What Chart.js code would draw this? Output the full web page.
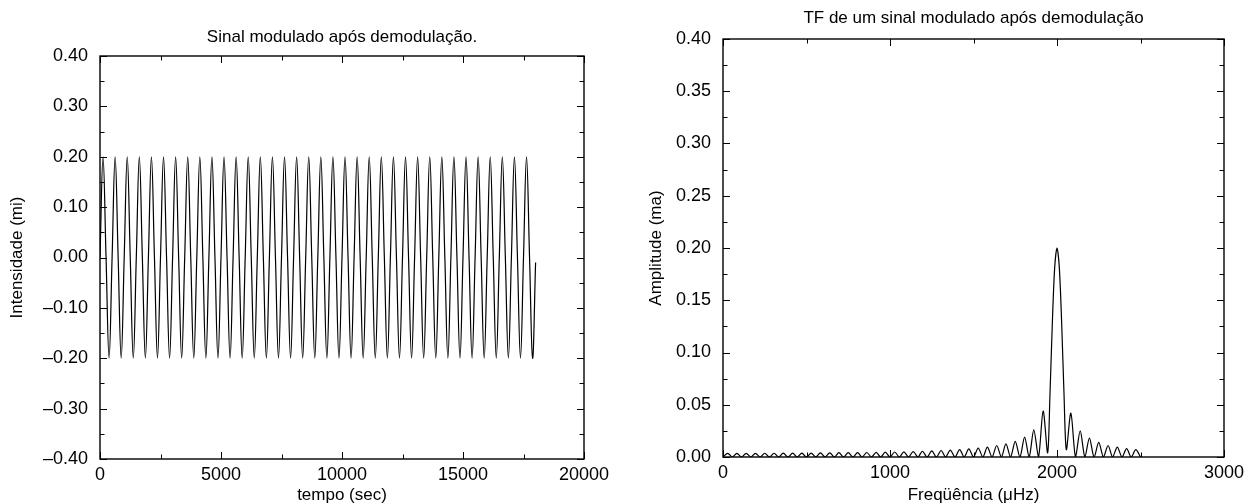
<!DOCTYPE html>
<html>
<head>
<meta charset="utf-8">
<script src="https://cdn.jsdelivr.net/npm/chart.js@4.4.0/dist/chart.umd.min.js"></script>
<style>
body { margin: 0; background: #fff; }
#wrap { position: relative; width: 1244px; height: 504px; }
canvas { position: absolute; top: 0; }
#chart-signal { left: 0; }
#chart-spectrum { left: 622px; }
</style>
</head>
<body>
<div id="wrap">
<canvas id="chart-signal" width="622" height="504"></canvas>
<canvas id="chart-spectrum" width="622" height="504"></canvas>
</div>
<script>
// left panel: demodulated signal, samples at every quarter period (500 s period)
const times = [
	0,125,250,375,500,625,750,875,1000,1125,1250,1375,1500,1625,1750,1875,
	2000,2125,2250,2375,2500,2625,2750,2875,3000,3125,3250,3375,3500,3625,3750,3875,
	4000,4125,4250,4375,4500,4625,4750,4875,5000,5125,5250,5375,5500,5625,5750,5875,
	6000,6125,6250,6375,6500,6625,6750,6875,7000,7125,7250,7375,7500,7625,7750,7875,
	8000,8125,8250,8375,8500,8625,8750,8875,9000,9125,9250,9375,9500,9625,9750,9875,
	10000,10125,10250,10375,10500,10625,10750,10875,11000,11125,11250,11375,11500,11625,11750,11875,
	12000,12125,12250,12375,12500,12625,12750,12875,13000,13125,13250,13375,13500,13625,13750,13875,
	14000,14125,14250,14375,14500,14625,14750,14875,15000,15125,15250,15375,15500,15625,15750,15875,
	16000,16125,16250,16375,16500,16625,16750,16875,17000,17125,17250,17375,17500,17625,17750,17875,
	18000
]
const signal = [
	0,0.2,0,-0.2, 0,0.2,0,-0.2, 0,0.2,0,-0.2, 0,0.2,0,-0.2,
	0,0.2,0,-0.2, 0,0.2,0,-0.2, 0,0.2,0,-0.2, 0,0.2,0,-0.2,
	0,0.2,0,-0.2, 0,0.2,0,-0.2, 0,0.2,0,-0.2, 0,0.2,0,-0.2,
	0,0.2,0,-0.2, 0,0.2,0,-0.2, 0,0.2,0,-0.2, 0,0.2,0,-0.2,
	0,0.2,0,-0.2, 0,0.2,0,-0.2, 0,0.2,0,-0.2, 0,0.2,0,-0.2,
	0,0.2,0,-0.2, 0,0.2,0,-0.2, 0,0.2,0,-0.2, 0,0.2,0,-0.2,
	0,0.2,0,-0.2, 0,0.2,0,-0.2, 0,0.2,0,-0.2, 0,0.2,0,-0.2,
	0,0.2,0,-0.2, 0,0.2,0,-0.2, 0,0.2,0,-0.2, 0,0.2,0,-0.2,
	0,0.2,0,-0.2, 0,0.2,0,-0.2, 0,0.2,0,-0.2, 0,0.2,0,-0.2,
	-0.01
]

// right panel: amplitude spectrum, lobe zeros and lobe tops
const freqs = [
	0,28,56,83,111,139,167,194,222,250,278,306,333,361,389,417,444,472,500,528,
	556,583,611,639,667,694,722,750,778,806,833,861,889,917,944,972,1000,1028,1056,1083,
	1111,1139,1167,1194,1222,1250,1278,1306,1333,1361,1389,1417,1444,1472,1500,1528,1556,1583,1611,1639,
	1667,1694,1722,1750,1778,1806,1833,1861,1889,1917,1944,
	1958,1972,1986,2000,2014,2028,2042,2056,
	2083,2111,2139,2167,2194,2222,2250,2278,2306,2333,2361,2389,2417,2444,2472,2500
]
const amplitude = [
	0,0.0035,0,0.0035,0,0.0035,0,0.0035,0,0.0036,0,0.0036,0,0.0037,0,0.0037,0,0.0038,0,0.0038,
	0,0.0039,0,0.004,0,0.0041,0,0.0041,0,0.0042,0,0.0043,0,0.0045,0,0.0046,0,0.0048,0,0.005,
	0,0.0052,0,0.0055,0,0.0058,0,0.0062,0,0.0066,0,0.0071,0,0.0077,0,0.0085,0,0.0095,0,0.011,
	0,0.0125,0,0.015,0,0.019,0,0.026,0,0.044,0.004,
	0.06,0.128,0.181,0.2,0.181,0.128,0.06,0.007,
	0.042,0,0.025,0,0.018,0,0.014,0,0.011,0,0.0095,0,0.008,0,0.007,0
]

const signalTicksY = [-0.4, 0.4, 0.1]
const signalTicksX = [0, 20000, 5000]
const spectrumTicksY = [0, 0.4, 0.05]
const spectrumTicksX = [0, 3000, 1000]

const fontFamily = "'Liberation Sans', Helvetica, Arial, sans-serif"
Chart.defaults.font.family = fontFamily
Chart.defaults.color = '#000'

const fmtY = v => (v < -1e-9 ? '\u2013' : '') + Math.abs(v).toFixed(2)
const fmtX = v => String(v)

// frame with inward ticks on all four sides, like the original plot
const frameTicks = {
	id: 'frameTicks',
	afterDraw(chart, args, opts) {
		const {ctx, chartArea: a, scales: {x, y}} = chart
		ctx.save()
		ctx.strokeStyle = '#000'
		ctx.lineWidth = 1.4
		ctx.strokeRect(a.left, a.top, a.right - a.left, a.bottom - a.top)
		ctx.lineWidth = 1
		ctx.beginPath()
		for (let i = 0; x.min + i * opts.xMinor <= x.max + 1e-9; i++) {
			const px = Math.round(x.getPixelForValue(x.min + i * opts.xMinor)) + 0.5
			const len = i % 2 === 0 ? 7 : 4.5
			ctx.moveTo(px, a.bottom); ctx.lineTo(px, a.bottom - len)
			ctx.moveTo(px, a.top); ctx.lineTo(px, a.top + len)
		}
		for (let i = 0; y.min + i * opts.yMinor <= y.max + 1e-9; i++) {
			const py = Math.round(y.getPixelForValue(y.min + i * opts.yMinor)) + 0.5
			const len = i % 2 === 0 ? 7 : 4.5
			ctx.moveTo(a.left, py); ctx.lineTo(a.left + len, py)
			ctx.moveTo(a.right, py); ctx.lineTo(a.right - len, py)
		}
		ctx.stroke()
		ctx.restore()
	}
}

function makeOptions(cfg) {
	return {
		responsive: false,
		animation: false,
		events: [],
		layout: { padding: { left: 0, right: cfg.padRight, top: 0, bottom: 0 } },
		plugins: {
			legend: { display: false },
			tooltip: { enabled: false },
			title: {
				display: true,
				text: cfg.title,
				fullSize: false,
				color: '#000',
				font: { size: 17, weight: 'normal', lineHeight: 1 },
				padding: { top: cfg.titleTop, bottom: cfg.titleBottom }
			},
			frameTicks: { xMinor: cfg.xTicks[2] / 2, yMinor: cfg.yTicks[2] / 2 }
		},
		scales: {
			x: {
				type: 'linear',
				min: cfg.xTicks[0],
				max: cfg.xTicks[1],
				grid: { display: false, drawTicks: false },
				border: { display: false },
				ticks: { stepSize: cfg.xTicks[2], padding: 5, font: { size: 18 }, maxRotation: 0, callback: fmtX },
				title: { display: true, text: cfg.xTitle, font: { size: 17, lineHeight: 1 }, padding: 0 },
				afterFit: s => {
					s.height = cfg.xHeight
					// keep the plot box fixed; the end labels may overhang into the margin
					s.paddingLeft = 0
					s.paddingRight = 0
				}
			},
			y: {
				min: cfg.yTicks[0],
				max: cfg.yTicks[1],
				grid: { display: false, drawTicks: false },
				border: { display: false },
				ticks: { stepSize: cfg.yTicks[2], padding: 12, font: { size: 18 }, callback: fmtY },
				title: { display: true, text: cfg.yTitle, font: { size: 17, lineHeight: 1 }, padding: { top: cfg.yTitlePad, bottom: 0 } },
				afterFit: s => {
					s.width = cfg.yWidth
					s.paddingTop = 0
					s.paddingBottom = 0
				}
			}
		}
	}
}

const chartSignal = new Chart(document.getElementById('chart-signal'), {
	type: 'line',
	data: {
		datasets: [{
			data: times.map((t, i) => ({ x: t, y: signal[i] })),
			borderColor: '#000',
			borderWidth: 1.2,
			pointRadius: 0,
			tension: 0.4
		}]
	},
	options: makeOptions({
		title: 'Sinal modulado após demodulação.',
		titleTop: 28.5, titleBottom: 10.5,
		padRight: 38, yWidth: 100, xHeight: 45,
		xTicks: signalTicksX, yTicks: signalTicksY,
		xTitle: 'tempo (sec)', yTitle: 'Intensidade (mi)', yTitlePad: 8.5
	}),
	plugins: [frameTicks]
})

const chartSpectrum = new Chart(document.getElementById('chart-spectrum'), {
	type: 'line',
	data: {
		datasets: [{
			data: freqs.map((f, i) => ({ x: f, y: amplitude[i] })),
			borderColor: '#000',
			borderWidth: 1.2,
			pointRadius: 0,
			tension: 0.3
		}]
	},
	options: makeOptions({
		title: 'TF de um sinal modulado após demodulação',
		titleTop: 9.5, titleBottom: 12.5,
		padRight: 20, yWidth: 101, xHeight: 47,
		xTicks: spectrumTicksX, yTicks: spectrumTicksY,
		xTitle: 'Freqüência (μHz)', yTitle: 'Amplitude (ma)', yTitlePad: 25.5
	}),
	plugins: [frameTicks]
})
</script>
</body>
</html>
